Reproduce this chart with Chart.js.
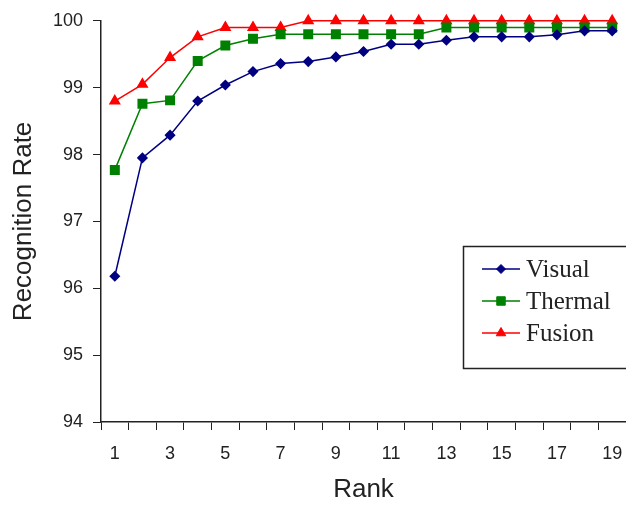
<!DOCTYPE html>
<html>
<head>
<meta charset="utf-8">
<script src="https://cdn.jsdelivr.net/npm/chart.js@4.4.0/dist/chart.umd.min.js"></script>
<style>
    html, body { margin: 0; padding: 0; background: #fff; }
    #wrap { width: 626px; height: 508px; }
</style>
</head>
<body>
<div id="wrap"><canvas id="rankChart"></canvas></div>
<script>
const ranks = ['1', '2', '3', '4', '5', '6', '7', '8', '9', '10', '11', '12', '13', '14', '15', '16', '17', '18', '19'];
const visual = [96.18, 97.95, 98.29, 98.80, 99.04, 99.24, 99.36, 99.39, 99.46, 99.54, 99.65, 99.65, 99.71, 99.76, 99.76, 99.76, 99.79, 99.85, 99.85];
const thermal = [97.77, 98.76, 98.81, 99.40, 99.63, 99.73, 99.80, 99.80, 99.80, 99.80, 99.80, 99.80, 99.90, 99.90, 99.90, 99.90, 99.90, 99.90, 99.90];
const fusion = [98.80, 99.05, 99.45, 99.76, 99.90, 99.90, 99.90, 100, 100, 100, 100, 100, 100, 100, 100, 100, 100, 100, 100];
const yTicks = [94, 95, 96, 97, 98, 99, 100];

const sans = "'Liberation Sans', Arial, sans-serif";

// --- legend box like the excel one: line + marker + serif text
const boxLegend = {
    id: 'boxLegend',
    afterDatasetsDraw(chart) {
        const ctx = chart.ctx;
        ctx.save();
        ctx.fillStyle = '#fff';
        ctx.fillRect(463, 246, 170, 122);
        ctx.strokeStyle = '#222';
        ctx.lineWidth = 1.5;
        ctx.strokeRect(463.5, 246.5, 170, 122);

        ctx.font = "25px 'Liberation Serif', 'Times New Roman', serif";
        ctx.textBaseline = 'middle';
        chart.data.datasets.forEach(function (ds, i) {
            const y = 269 + i * 32;
            ctx.strokeStyle = ds.borderColor;
            ctx.lineWidth = 1.5;
            ctx.beginPath();
            ctx.moveTo(482, y);
            ctx.lineTo(520, y);
            ctx.stroke();
            ctx.fillStyle = ds.pointBackgroundColor;
            ctx.strokeStyle = ds.pointBackgroundColor;
            ctx.lineWidth = 1;
            Chart.helpers.drawPoint(ctx, { pointStyle: ds.pointStyle, radius: ds.pointRadius, borderWidth: 1 }, 501, y);
            ctx.fillStyle = '#222';
            ctx.fillText(ds.label, 526, y + 1);
        });
        ctx.restore();
    }
};

new Chart(document.getElementById('rankChart').getContext('2d'), {
    type: 'line',
    data: {
        labels: ranks,
        datasets: [{
            label: 'Visual',
            data: visual,
            borderColor: '#000080',
            pointBackgroundColor: '#000080',
            pointBorderColor: '#000080',
            pointStyle: 'rectRot',
            pointRadius: 4.5,
            borderWidth: 1.5,
            clip: false
        }, {
            label: 'Thermal',
            data: thermal,
            borderColor: '#008000',
            pointBackgroundColor: '#008000',
            pointBorderColor: '#008000',
            pointStyle: 'rect',
            pointRadius: 6,
            borderWidth: 1.5,
            clip: false
        }, {
            label: 'Fusion',
            data: fusion,
            borderColor: '#ff0000',
            pointBackgroundColor: '#ff0000',
            pointBorderColor: '#ff0000',
            pointStyle: 'triangle',
            pointRadius: 5.5,
            borderWidth: 1.5,
            clip: false
        }]
    },
    options: {
        responsive: true,
        maintainAspectRatio: false,
        animation: false,
        // no auto padding: the plot runs right to the window edge, like the original
        layout: { autoPadding: false, padding: { top: 17, right: 0, bottom: 0, left: 0 } },
        plugins: {
            legend: { display: false },
            tooltip: { enabled: false }
        },
        elements: { line: { tension: 0 } },
        scales: {
            x: {
                offset: true,
                afterFit: function (scale) {
                    scale.height = 86;
                    scale.paddingLeft = 0;
                    scale.paddingRight = 0;
                },
                grid: {
                    offset: true,
                    drawOnChartArea: false,
                    drawTicks: true,
                    tickLength: 8,
                    color: '#222'
                },
                border: { display: true, color: '#222', width: 1.5 },
                ticks: {
                    autoSkip: false,
                    maxRotation: 0,
                    padding: 13,
                    color: '#222',
                    font: { family: sans, size: 18 },
                    callback: function (val, i) { return i % 2 === 0 ? ranks[i] : ''; }
                },
                title: {
                    display: true,
                    text: 'Rank',
                    color: '#222',
                    font: { family: sans, size: 26 },
                    padding: { top: 0, bottom: 3 }
                }
            },
            y: {
                min: yTicks[0],
                max: yTicks[yTicks.length - 1],
                afterFit: function (scale) { scale.width = 101; },
                afterBuildTicks: function (scale) {
                    scale.ticks = yTicks.map(function (v) { return { value: v }; });
                },
                grid: {
                    drawOnChartArea: false,
                    drawTicks: true,
                    tickLength: 8,
                    color: '#222'
                },
                border: { display: true, color: '#222', width: 1.5 },
                ticks: {
                    padding: 10,
                    color: '#222',
                    font: { family: sans, size: 18 }
                },
                title: {
                    display: true,
                    text: 'Recognition Rate',
                    color: '#222',
                    font: { family: sans, size: 26 },
                    padding: { top: 8, bottom: 0 }
                }
            }
        }
    },
    plugins: [boxLegend]
});
</script>
</body>
</html>
